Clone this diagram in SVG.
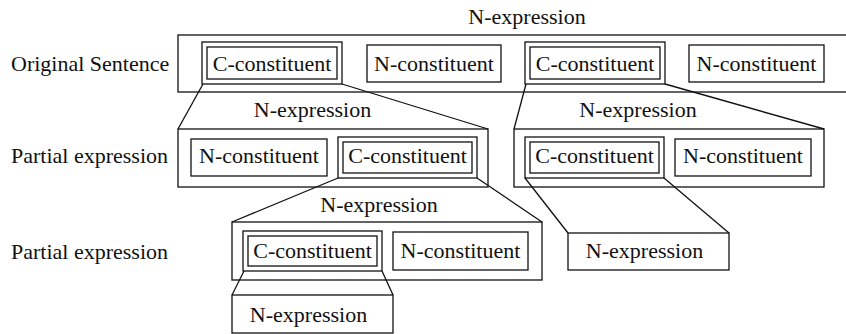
<svg xmlns="http://www.w3.org/2000/svg" width="846" height="334" viewBox="0 0 846 334" font-family="'Liberation Serif', 'DejaVu Serif', 'Times New Roman', Times, serif">
<style>
rect{fill:none;stroke:#111;stroke-width:1.3}
.c line{stroke:#111;stroke-width:1.3}
text{font-family:'Liberation Serif','DejaVu Serif','Times New Roman',Times,serif;font-size:22px;fill:#111;text-anchor:middle}
.l{text-anchor:start}
</style>
<rect width="846" height="334" style="fill:#fff;stroke:none"/>
<g id="labels">
<text class="l" x="11" y="71">Original Sentence</text>
<text class="l" x="11" y="163">Partial expression</text>
<text class="l" x="11" y="259">Partial expression</text>
</g>
<g id="row1">
<rect x="178" y="35" width="672" height="57"/>
<text x="527" y="24">N-expression</text>
</g>
<g id="r1c1"><rect x="202" y="42" width="140" height="42"/><rect x="207" y="47" width="130" height="32"/><text x="272" y="71">C-constituent</text></g>
<g id="r1n1"><rect x="367" y="45" width="134" height="37"/><text x="434" y="71">N-constituent</text></g>
<g id="r1c2"><rect x="525" y="42" width="140" height="42"/><rect x="530" y="47" width="130" height="32"/><text x="595" y="71">C-constituent</text></g>
<g id="r1n2"><rect x="689" y="45" width="135" height="37"/><text x="756.5" y="71">N-constituent</text></g>
<g id="row2a">
<rect x="178" y="129" width="310" height="58"/>
<text x="312.5" y="117">N-expression</text>
</g>
<g id="r2an"><rect x="191" y="139" width="136" height="37"/><text x="259" y="163">N-constituent</text></g>
<g id="r2ac"><rect x="338" y="137" width="139" height="41"/><rect x="343" y="142" width="129" height="31"/><text x="407.5" y="163">C-constituent</text></g>
<g id="row2b">
<rect x="514" y="129" width="310" height="58"/>
<text x="638" y="117">N-expression</text>
</g>
<g id="r2bc"><rect x="525" y="137" width="139" height="41"/><rect x="530" y="142" width="129" height="31"/><text x="594.5" y="163">C-constituent</text></g>
<g id="r2bn"><rect x="675" y="139" width="136" height="37"/><text x="743" y="163">N-constituent</text></g>
<g id="row3">
<rect x="232" y="222" width="310" height="58"/>
<text x="379" y="212">N-expression</text>
</g>
<g id="r3c"><rect x="243" y="231" width="139" height="40"/><rect x="248" y="236" width="129" height="30"/><text x="312.5" y="258">C-constituent</text></g>
<g id="r3n"><rect x="393" y="232" width="135" height="38"/><text x="460.5" y="258">N-constituent</text></g>
<g id="r4"><rect x="232" y="295" width="161" height="38"/><text x="308.5" y="322">N-expression</text></g>
<g id="r3b"><rect x="568" y="233" width="161" height="37"/><text x="644.5" y="258">N-expression</text></g>
<g class="c" id="connectors">
<line x1="203" y1="84" x2="178" y2="129"/>
<line x1="342" y1="84" x2="488" y2="129"/>
<line x1="526" y1="84" x2="514" y2="129"/>
<line x1="665" y1="84" x2="824" y2="129"/>
<line x1="338" y1="178" x2="232" y2="222"/>
<line x1="477" y1="178" x2="542" y2="222"/>
<line x1="525" y1="178" x2="568" y2="233"/>
<line x1="664" y1="178" x2="729" y2="233"/>
<line x1="244" y1="271" x2="232" y2="295"/>
<line x1="382" y1="271" x2="393" y2="295"/>
</g>
</svg>
